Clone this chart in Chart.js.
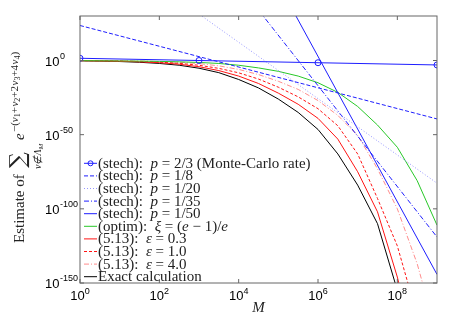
<!DOCTYPE html>
<html>
<head>
<meta charset="utf-8">
<script src="https://cdn.jsdelivr.net/npm/chart.js@4.4.0/dist/chart.umd.min.js"></script>
<style>
  html, body { margin: 0; padding: 0; background: #fff; }
  #wrap { width: 460px; height: 327px; }
</style>
</head>
<body>
<div id="wrap"><canvas id="estimateChart" width="460" height="327"></canvas></div>
<script>
// sample sizes M (half decades) and the sparser grids used by the straight bounds
const mGrid = [1, 3.162, 10, 31.62, 100, 316.2, 1e3, 3162, 1e4, 3.162e4, 1e5, 3.162e5, 1e6, 3.162e6, 1e7, 3.162e7, 1e8, 3.162e8, 1e9];
const mMonteCarlo = [1, 1e3, 1e6, 1e9];
const mEnds = [1, 1e9];

// estimates
const stechP2_3 = [31.6, 1, 0.0316, 0.001];
const stechP1_8 = [4e23, 4e-40];
const stechP1_20 = [2e88, 2e-83];
const stechP1_35 = [1e187, 1e-119];
const stechP1_50 = [6e296, 6e-145];
const optim = [0.8, 0.63, 0.5, 0.4, 0.25, 0.126, 0.05, 0.01, 6.3e-4, 1e-5, 5e-8, 3.2e-11, 1e-15, 3.2e-22, 1e-31, 3.2e-44, 3.2e-59, 1e-81, 1e-111];
const eps03 = [0.8, 0.5, 0.32, 0.13, 0.032, 3.2e-3, 6.3e-5, 1.6e-7, 3.2e-11, 3.2e-16, 1e-22, 3.2e-30, 1e-39, 1e-53, 1e-75, 1e-102, 1e-146, 1e-200];
const eps10 = [0.8, 0.63, 0.4, 0.2, 0.079, 0.0126, 6.3e-4, 5e-6, 5e-9, 3.2e-13, 1e-18, 3.2e-25, 3.2e-33, 1e-44, 1e-63, 1e-93, 1e-125, 1e-172];
const eps40 = [1, 0.8, 0.63, 0.4, 0.2, 0.063, 7.9e-3, 2.5e-4, 1e-6, 3.2e-10, 1e-14, 3.2e-20, 1e-27, 1e-37, 3.2e-51, 1e-73, 1e-100, 1e-137, 1e-185];
const exact = [0.63, 0.4, 0.2, 0.063, 0.01, 6.3e-4, 6.3e-6, 6.3e-9, 1.6e-13, 3.2e-19, 1e-26, 1e-35, 3.2e-47, 1e-63, 1e-84, 1e-110, 1e-155];

// ticks
const xTicks = [1, 1e2, 1e4, 1e6, 1e8];
const xTickExp = ['0', '2', '4', '6', '8'];
const yTicks = [1, 1e-50, 1e-100, 1e-150];
const yTickExp = ['0', '-50', '-100', '-150'];

// legend labels as [text, italic] pieces
const legendLabels = [
  [['(stech):  ', 0], ['p', 1], [' = 2/3 (Monte-Carlo rate)', 0]],
  [['(stech):  ', 0], ['p', 1], [' = 1/8', 0]],
  [['(stech):  ', 0], ['p', 1], [' = 1/20', 0]],
  [['(stech):  ', 0], ['p', 1], [' = 1/35', 0]],
  [['(stech):  ', 0], ['p', 1], [' = 1/50', 0]],
  [['(optim):  ', 0], ['ξ', 1], [' = (', 0], ['e', 1], [' − 1)/', 0], ['e', 1]],
  [['(5.13):  ', 0], ['ε', 1], [' = 0.3', 0]],
  [['(5.13):  ', 0], ['ε', 1], [' = 1.0', 0]],
  [['(5.13):  ', 0], ['ε', 1], [' = 4.0', 0]],
  [['Exact calculation', 0]]
];

const BLUE = 'rgb(30,30,255)';
const pts = (xs, ys) => ys.map((y, i) => ({ x: xs[i], y: y }));

const datasets = [
  { data: pts(mMonteCarlo, stechP2_3), borderColor: BLUE, pointRadius: 3, pointBorderColor: BLUE, pointBackgroundColor: 'rgba(0,0,0,0)', pointBorderWidth: 1 },
  { data: pts(mEnds, stechP1_8), borderColor: BLUE, borderDash: [4, 2] },
  { data: pts(mEnds, stechP1_20), borderColor: 'rgb(150,150,255)', borderDash: [1, 2] },
  { data: pts(mEnds, stechP1_35), borderColor: BLUE, borderDash: [5, 2, 1, 2] },
  { data: pts(mEnds, stechP1_50), borderColor: BLUE },
  { data: pts(mGrid, optim), borderColor: 'rgb(40,200,40)' },
  { data: pts(mGrid, eps03), borderColor: 'rgb(255,20,20)' },
  { data: pts(mGrid, eps10), borderColor: 'rgb(255,20,20)', borderDash: [3, 2] },
  { data: pts(mGrid, eps40), borderColor: 'rgb(255,140,140)', borderDash: [5, 2, 1, 2] },
  { data: pts(mGrid, exact), borderColor: '#000' }
];
datasets.forEach(d => { d.borderWidth = 1; d.fill = false; d.tension = 0; if (d.pointRadius === undefined) d.pointRadius = 0; });

function drawPieces(ctx, pieces, x, y, size) {
  for (const [t, it] of pieces) {
    ctx.font = (it ? 'italic ' : '') + size + 'px "Liberation Serif"';
    ctx.fillText(t, x, y);
    x += ctx.measureText(t).width;
  }
  return x;
}

const decorations = {
  id: 'decorations',
  afterDraw(chart) {
    const ctx = chart.ctx;
    const a = chart.chartArea;
    const xs = chart.scales.x, ys = chart.scales.y;
    ctx.save();

    // box and inward ticks
    ctx.strokeStyle = '#666';
    ctx.lineWidth = 1;
    ctx.setLineDash([]);
    ctx.strokeRect(a.left, a.top, a.right - a.left, a.bottom - a.top);
    ctx.beginPath();
    xTicks.forEach(v => {
      const px = xs.getPixelForValue(v);
      ctx.moveTo(px, a.bottom); ctx.lineTo(px, a.bottom - 4);
      ctx.moveTo(px, a.top); ctx.lineTo(px, a.top + 4);
    });
    yTicks.forEach(v => {
      const py = ys.getPixelForValue(v);
      ctx.moveTo(a.left, py); ctx.lineTo(a.left + 4, py);
      ctx.moveTo(a.right, py); ctx.lineTo(a.right - 4, py);
    });
    ctx.stroke();

    // tick labels 10^k
    ctx.fillStyle = '#000';
    ctx.textBaseline = 'alphabetic';
    ctx.textAlign = 'left';
    xTicks.forEach((v, i) => {
      const px = xs.getPixelForValue(v);
      ctx.font = '13px "Liberation Sans"';
      const w1 = ctx.measureText('10').width;
      ctx.font = '9px "Liberation Sans"';
      const w2 = ctx.measureText(xTickExp[i]).width;
      const x0 = px - (w1 + w2) / 2;
      ctx.font = '13px "Liberation Sans"';
      ctx.fillText('10', x0, 300);
      ctx.font = '9px "Liberation Sans"';
      ctx.fillText(xTickExp[i], x0 + w1, 294);
    });
    yTicks.forEach((v, i) => {
      const py = ys.getPixelForValue(v);
      ctx.font = '13px "Liberation Sans"';
      const w1 = ctx.measureText('10').width;
      ctx.fillText('10', 45, py + 5);
      ctx.font = '9px "Liberation Sans"';
      ctx.fillText(yTickExp[i], 45 + w1 + 0.5, py - 2);
    });

    // x title
    ctx.fillStyle = '#222';
    ctx.font = 'italic 15px "Liberation Serif"';
    ctx.textAlign = 'center';
    ctx.fillText('M', (a.left + a.right) / 2, 312);
    ctx.textAlign = 'left';

    // y title, rotated
    ctx.save();
    ctx.translate(24, 243);
    ctx.rotate(-Math.PI / 2);
    ctx.font = '15px "Liberation Serif"';
    ctx.fillText('Estimate of', 0, 0);
    ctx.font = '22px "DejaVu Serif"';
    ctx.fillText('∑', 75, 1);
    ctx.font = 'italic 10px "Liberation Serif"';
    ctx.fillText('ν∉Λ', 74, 17);
    const sw = ctx.measureText('ν∉Λ').width;
    ctx.font = 'italic 7px "Liberation Serif"';
    ctx.fillText('M', 74 + sw, 19);
    ctx.font = 'italic 15px "Liberation Serif"';
    ctx.fillText('e', 103, 0);
    let ex = 111;
    const expo = [['−(', 0, 0], ['ν', 1, 0], ['1', 0, 1], ['+', 0, 0], ['ν', 1, 0], ['2', 0, 1], ['+2', 0, 0], ['ν', 1, 0], ['3', 0, 1], ['+4', 0, 0], ['ν', 1, 0], ['4', 0, 1], [')', 0, 0]];
    expo.forEach(([t, it, sub]) => {
      ctx.font = (it ? 'italic ' : '') + (sub ? 8 : 11) + 'px "Liberation Serif"';
      ctx.fillText(t, ex, sub ? -4 : -6);
      ex += ctx.measureText(t).width + (t === '+' || t === '+2' || t === '+4' ? 0.5 : 0);
    });
    ctx.restore();

    // legend
    legendLabels.forEach((pieces, i) => {
      const y = 163.3 + i * 12.6;
      const ds = chart.data.datasets[i];
      ctx.strokeStyle = ds.borderColor;
      ctx.lineWidth = 1;
      ctx.setLineDash(ds.borderDash || []);
      ctx.beginPath();
      ctx.moveTo(84, y); ctx.lineTo(97, y);
      ctx.stroke();
      ctx.setLineDash([]);
      if (ds.pointRadius > 0) {
        ctx.beginPath();
        ctx.arc(90.5, y, 2.5, 0, Math.PI * 2);
        ctx.stroke();
      }
      ctx.fillStyle = '#222';
      drawPieces(ctx, pieces, 98, y + 4.5, 15);
    });
    ctx.restore();
  }
};

new Chart(document.getElementById('estimateChart'), {
  type: 'line',
  data: { datasets: datasets },
  options: {
    responsive: false,
    animation: false,
    layout: { padding: { left: 80, right: 23, top: 16, bottom: 44 } },
    plugins: { legend: { display: false }, tooltip: { enabled: false } },
    scales: {
      x: { type: 'logarithmic', min: 1, max: 1e9, display: false },
      y: { type: 'logarithmic', min: 1e-150, max: 1e30, display: false }
    }
  },
  plugins: [decorations]
});
</script>
</body>
</html>
